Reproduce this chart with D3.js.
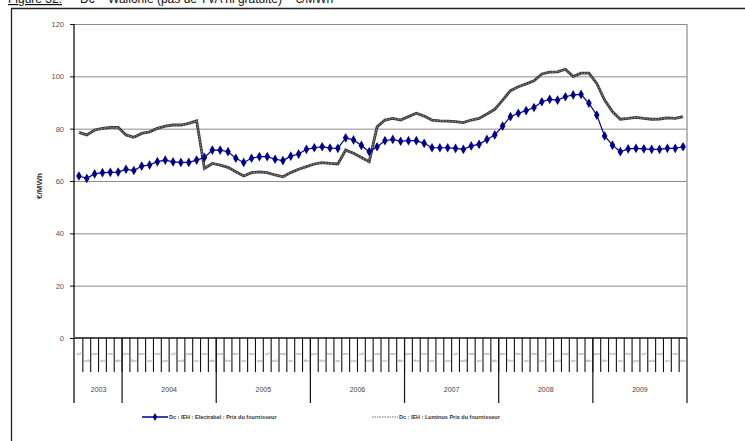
<!DOCTYPE html>
<html>
<head>
<meta charset="utf-8">
<script src="https://cdn.jsdelivr.net/npm/d3@7"></script>
<style>
  body { margin:0; background:#fff; }
  svg { display:block; font-family:"Liberation Sans", Arial, sans-serif; }
</style>
</head>
<body>
<svg id="chart" width="745" height="441"></svg>
<script>
// ---- data ----
var years = ["2003", "2004", "2005", "2006", "2007", "2008", "2009"]
var monthsInYear = [6, 12, 12, 12, 12, 12, 12]   // series starts in July 2003
var monthNames = ["janv", "févr", "mars", "avr", "mai", "juin", "juil", "août", "sept", "oct", "nov", "déc"]
var yTicks = [0, 20, 40, 60, 80, 100, 120]

var electrabel = [61.9, 61.0, 62.7, 63.2, 63.3, 63.4, 64.5, 64.0, 65.7, 66.1, 67.4, 68.0,
  67.3, 67.1, 67.1, 68.0, 69.0, 71.8, 71.8, 71.2, 68.7, 67.1, 68.7, 69.3,
  69.3, 68.3, 67.8, 69.5, 70.3, 72.1, 72.7, 73.1, 72.6, 72.5, 76.5, 75.7,
  73.6, 71.2, 73.1, 75.4, 75.9, 75.2, 75.4, 75.4, 74.4, 72.7, 72.7, 72.7,
  72.5, 72.1, 73.4, 74.0, 75.9, 77.6, 81.0, 84.6, 85.9, 86.9, 88.1, 90.3,
  91.2, 90.9, 92.2, 92.9, 93.1, 89.7, 85.2, 77.2, 73.7, 71.2, 72.3, 72.5,
  72.3, 72.1, 72.1, 72.5, 72.5, 73.1]

var luminus = [78.6, 77.6, 79.5, 80.1, 80.5, 80.5, 77.6, 76.7, 78.2, 78.8, 80.1, 81.0,
  81.4, 81.4, 82.0, 83.0, 64.8, 66.7, 66.1, 65.2, 63.5, 61.9, 63.2, 63.5,
  63.2, 62.3, 61.6, 63.2, 64.5, 65.5, 66.5, 67.0, 66.7, 66.5, 71.8, 70.6,
  69.0, 67.4, 80.7, 83.3, 83.9, 83.3, 84.6, 85.9, 84.8, 83.3, 83.0, 82.9,
  82.7, 82.3, 83.3, 83.9, 85.6, 87.4, 90.9, 94.5, 96.0, 97.1, 98.3, 100.9,
  101.6, 101.7, 102.7, 99.9, 101.2, 101.2, 97.3, 90.9, 86.5, 83.6, 83.9, 84.3,
  83.9, 83.6, 83.7, 84.1, 83.9, 84.6]

var seriesNames = ["Dc : IEH : Electrabel : Prix du fournisseur", "Dc : IEH : Luminus Prix du fournisseur"]

// categories: one per month
var categories = []
var yearStarts = []
years.forEach(function(yr, k){
  var first = 12 - monthsInYear[k]
  yearStarts.push(yr + "-" + first)
  for (var m = first; m < 12; m++) categories.push(yr + "-" + m)
})

var svg = d3.select("#chart")
var pLeft = 75, pRight = 687, pTop = 24, pBottom = 338

var x = d3.scaleBand().domain(categories).range([pLeft, pRight])
var y = d3.scaleLinear().domain([0, 120]).range([pBottom, pTop])
var cx = function(i){ return x(categories[i]) + x.bandwidth() / 2 }

// ---- title (cut by the top edge) and frame ----
var title = svg.append("text").attr("x", 8).attr("y", 3).attr("font-size", 12).attr("fill", "#111")
title.append("tspan").attr("text-decoration", "underline").text("Figure 32:")
title.append("tspan").attr("dx", 18).text("Dc  –  Wallonie (pas de TVA ni gratuité)  –  €/MWh")

svg.append("path").attr("d", "M11.5,441V8.5H745").attr("fill", "none").attr("stroke", "#222").attr("stroke-width", 1.3)

// ---- grid ----
svg.append("g").attr("transform", "translate(" + pLeft + ",0)")
  .call(d3.axisLeft(y).tickValues(yTicks.slice(1)).tickSize(-(pRight - pLeft)).tickFormat(""))
  .call(function(g){ g.select(".domain").remove() })
  .selectAll("line").attr("stroke", "#8c8c8c").attr("stroke-width", 1)

svg.append("line").attr("x1", pRight).attr("x2", pRight).attr("y1", pTop).attr("y2", pBottom)
  .attr("stroke", "#8c8c8c").attr("stroke-width", 1.2)

// ---- y axis ----
var yAxis = svg.append("g").attr("transform", "translate(" + pLeft + ",0)")
  .call(d3.axisLeft(y).tickValues(yTicks).tickSize(5).tickPadding(6))
yAxis.select(".domain").remove()
yAxis.selectAll("line").attr("stroke", "#111")
yAxis.selectAll("text").attr("font-size", 7.5).attr("fill", "#555").attr("font-family", "Liberation Sans, Arial")
svg.append("line").attr("x1", pLeft - 1).attr("x2", pLeft - 1).attr("y1", pTop).attr("y2", 403)
  .attr("stroke", "#111").attr("stroke-width", 1.3)

svg.append("text").attr("transform", "translate(42,186) rotate(-90)")
  .attr("text-anchor", "middle").attr("font-size", 8).attr("font-weight", "bold").attr("fill", "#333")
  .text("€/MWh")

// ---- x axis: months and years ----
svg.append("line").attr("x1", pLeft).attr("x2", pRight).attr("y1", pBottom).attr("y2", pBottom)
  .attr("stroke", "#111").attr("stroke-width", 1.3)

svg.append("g").selectAll("line").data(categories.slice(1)).enter().append("line")
  .attr("x1", function(d){ return x(d) }).attr("x2", function(d){ return x(d) })
  .attr("y1", pBottom).attr("y2", 372).attr("stroke", "#111").attr("stroke-width", 1.1)

svg.append("g").selectAll("text").data(categories).enter().append("text")
  .attr("x", function(d){ return x(d) + x.bandwidth() / 2 })
  .attr("y", function(d, i){ return i % 2 ? 362 : 355 })
  .attr("text-anchor", "middle").attr("font-size", 3.5).attr("fill", "#6a7a99")
  .text(function(d){ return monthNames[+d.split("-")[1]] })

svg.append("g").selectAll("line").data(yearStarts.slice(1).concat([null])).enter().append("line")
  .attr("x1", function(d){ return d ? x(d) : pRight }).attr("x2", function(d){ return d ? x(d) : pRight })
  .attr("y1", pBottom).attr("y2", 403).attr("stroke", "#111").attr("stroke-width", 1.2)

svg.append("g").selectAll("text").data(years).enter().append("text")
  .attr("x", function(d, k){
    var a = x(yearStarts[k]), b = k < years.length - 1 ? x(yearStarts[k + 1]) : pRight
    return (a + b) / 2
  })
  .attr("y", 392).attr("text-anchor", "middle").attr("font-size", 7).attr("fill", "#444")
  .text(function(d){ return d })

// ---- series ----
var line = d3.line().x(function(d, i){ return cx(i) }).y(function(d){ return y(d) })

svg.append("path").datum(luminus).attr("d", line).attr("fill", "none")
  .attr("stroke", "#3a3a3a").attr("stroke-width", 2.8)
svg.append("path").datum(luminus).attr("d", line).attr("fill", "none")
  .attr("stroke", "#bdbdbd").attr("stroke-width", 0.8).attr("stroke-dasharray", "1.5,1.5")

svg.append("path").datum(electrabel).attr("d", line).attr("fill", "none")
  .attr("stroke", "#000080").attr("stroke-width", 1.2)
svg.append("g").selectAll("path").data(electrabel).enter().append("path")
  .attr("d", d3.symbol().type(d3.symbolDiamond).size(27))
  .attr("transform", function(d, i){ return "translate(" + cx(i) + "," + y(d) + ")" })
  .attr("fill", "#00008b")

// ---- legend ----
var lg = svg.append("g").attr("font-size", 5.5).attr("font-weight", "bold").attr("fill", "#333")
lg.append("line").attr("x1", 142).attr("x2", 168).attr("y1", 417).attr("y2", 417).attr("stroke", "#000080").attr("stroke-width", 1.5)
lg.append("path").attr("d", d3.symbol().type(d3.symbolDiamond).size(18)).attr("transform", "translate(155,417)").attr("fill", "#00008b")
lg.append("text").attr("x", 169).attr("y", 419).text(seriesNames[0])
lg.append("line").attr("x1", 372).attr("x2", 398).attr("y1", 417).attr("y2", 417).attr("stroke", "#444").attr("stroke-width", 0.8).attr("stroke-dasharray", "1.5,1")
lg.append("text").attr("x", 399).attr("y", 419).text(seriesNames[1])
</script>
</body>
</html>
